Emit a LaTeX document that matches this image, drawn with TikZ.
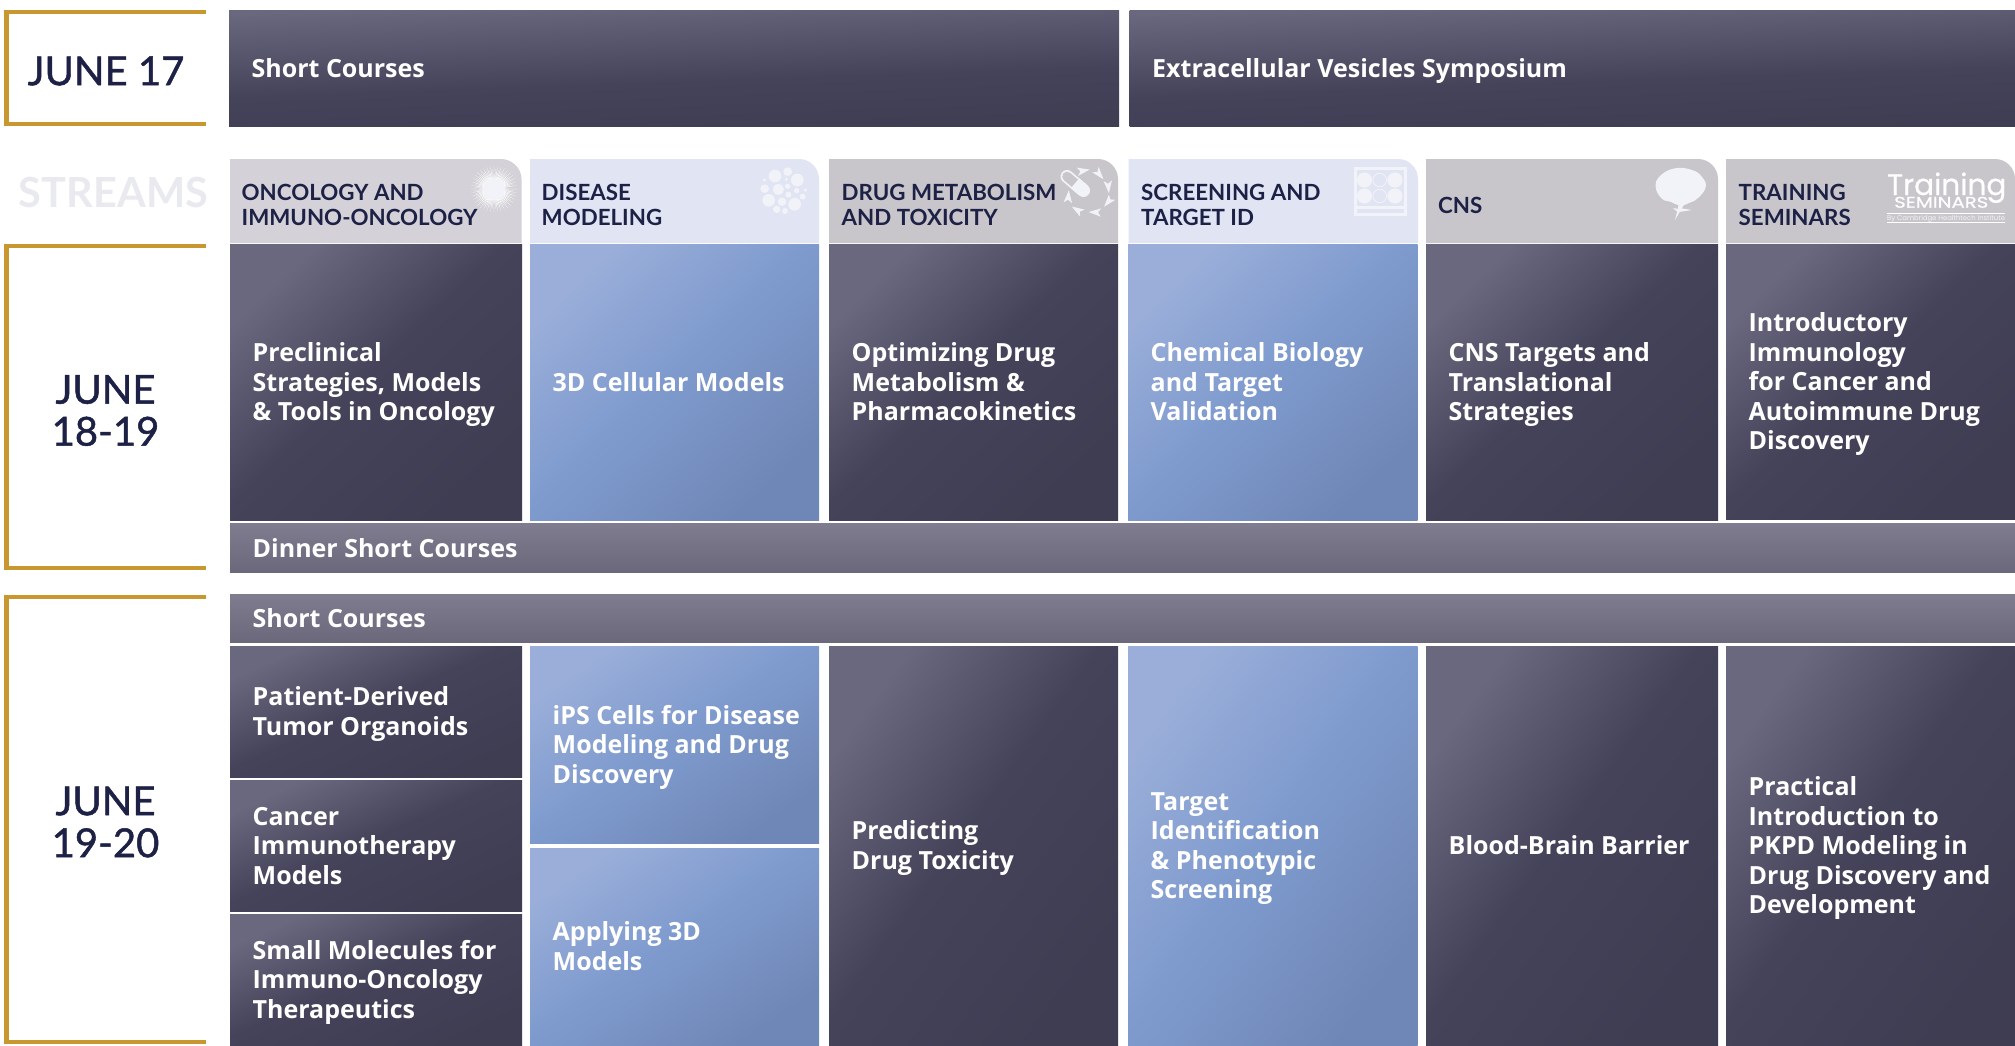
\documentclass[tikz,border=0pt]{standalone}
\usepackage{fontspec}
\setmainfont{Open Sans}
\newfontfamily\hdfont{Lato}
\newfontfamily\datefont{Lato}[FakeBold=1.2]
\newfontfamily\logofont{Poppins}[FakeBold=0.6]
\newfontfamily\logosmall{Poppins}
\newfontfamily\logowide{Poppins}[FakeStretch=1.27,FakeBold=0.6]
\definecolor{dk1}{HTML}{6A687E}
\definecolor{dk2}{HTML}{45435A}
\definecolor{dk3}{HTML}{3F3D52}
\definecolor{md1}{HTML}{807C90}
\definecolor{md2}{HTML}{6B687B}
\definecolor{bl1}{HTML}{9AAED9}
\definecolor{bl2}{HTML}{7F9BCE}
\definecolor{bl3}{HTML}{6F87B6}
\definecolor{hdgrey}{HTML}{C8C5CB}
\definecolor{hdgreyb}{HTML}{D4D2D8}
\definecolor{hdblue}{HTML}{E1E4F3}
\definecolor{navy}{HTML}{1C2145}
\definecolor{gold}{HTML}{C9972F}
\definecolor{faint}{HTML}{E9EAEF}
\definecolor{iconw}{HTML}{F2F3F8}
\pgfdeclareverticalshading{darkg}{100bp}{color(0bp)=(dk3); color(25bp)=(dk3); color(52bp)=(dk2); color(75bp)=(dk1); color(100bp)=(dk1)}
\pgfdeclareverticalshading{darkw}{100bp}{color(0bp)=(dk3); color(25bp)=(dk3); color(45bp)=(dk2); color(75bp)=(dk1); color(100bp)=(dk1)}
\pgfdeclareverticalshading{midg}{100bp}{color(0bp)=(md2); color(25bp)=(md2); color(75bp)=(md1); color(100bp)=(md1)}
\pgfdeclareverticalshading{blueg}{100bp}{color(0bp)=(bl3); color(25bp)=(bl3); color(52bp)=(bl2); color(75bp)=(bl1); color(100bp)=(bl1)}
\tikzset{
  darkbox/.style={shading=darkg,shading angle=\ang},
  widebox/.style={shading=darkw,shading angle=2},
  midbox/.style={shading=midg,shading angle=0},
  bluebox/.style={shading=blueg,shading angle=\ang},
  lab/.style={text=white,align=left,inner sep=0pt,font=\fontsize{25}{29.5}\selectfont\bfseries},
  headlab/.style={text=navy,align=left,inner sep=0pt,font=\hdfont\fontsize{22.3}{24.3}\selectfont\bfseries},
  datelab/.style={text=navy,align=center,inner sep=0pt,font=\datefont\fontsize{40}{42}\selectfont},
  bracket/.style={draw=gold,line width=4.2pt,line cap=butt,miter limit=10},
}
\newcommand\bx[7]{%
  \pgfmathsetmacro\ww{#5-#3}\pgfmathsetmacro\hh{#6-#4}\pgfmathsetmacro\ang{atan(\hh/\ww)}%
  \node[#2,anchor=north west,minimum width=\ww pt,minimum height=\hh pt,inner sep=0pt] (#1) at (#3,#4) {};
  \node[lab,anchor=west] (#1-t) at ([xshift=22.5pt]#1.west) {\rule{0pt}{24pt}#7\rule[-6pt]{0pt}{6pt}};
}
\newcommand\kite[3]{\fill[iconw,shift={(#1,#2)},rotate=#3] (6.5,0) -- (-6,4.2) -- (-3,0) -- (-6,-4.2) -- cycle;}
\begin{document}
\begin{tikzpicture}[x=1pt,y=-1pt]
\useasboundingbox (0,0) rectangle (2015,1045);
\fill[white] (0,0) rectangle (2015,1045);
% date brackets
\draw[bracket] (206,12) -- (6.4,12) -- (6.4,124) -- (206,124);
\draw[bracket] (206,245.8) -- (6.4,245.8) -- (6.4,568) -- (206,568);
\draw[bracket] (206,596.6) -- (6.4,596.6) -- (6.4,1042) -- (206,1042);
\node[datelab] (d17) at (106,71) {JUNE 17};
\node[datelab] (d18) at (105.5,410.5) {JUNE\\18-19};
\node[datelab] (d19) at (105.5,822) {JUNE\\19-20};
\node[text=faint,inner sep=0pt,font=\hdfont\fontsize{41.5}{42}\selectfont\bfseries] (streams) at (113.5,192.5) {STREAMS};
% top row
\bx{sc}{widebox}{229}{10}{1119}{126}{Short Courses}
\bx{ev}{widebox}{1129.5}{10}{2015}{126}{Extracellular Vesicles Symposium}
% headers
\fill[hdgreyb] (230,159) -- (501,159) .. controls (512,159) and (521.5,168) .. (521.5,179) -- (521.5,243) -- (230,243) -- cycle;
\fill[hdblue] (530,159) -- (799,159) .. controls (810,159) and (819,168) .. (819,179) -- (819,243) -- (530,243) -- cycle;
\fill[hdgrey] (829,159) -- (1098,159) .. controls (1109,159) and (1118,168) .. (1118,179) -- (1118,243) -- (829,243) -- cycle;
\fill[hdblue] (1128.6,159) -- (1398,159) .. controls (1409,159) and (1418,168) .. (1418,179) -- (1418,243) -- (1128.6,243) -- cycle;
\fill[hdgrey] (1426,159) -- (1698,159) .. controls (1709,159) and (1718,168) .. (1718,179) -- (1718,243) -- (1426,243) -- cycle;
\fill[hdgrey] (1726,159) -- (1995,159) .. controls (2006,159) and (2015,168) .. (2015,179) -- (2015,243) -- (1726,243) -- cycle;
\node[headlab,anchor=west] (h1) at (241.5,205) {ONCOLOGY AND\\IMMUNO-ONCOLOGY};
\node[headlab,anchor=west] (h2) at (541.5,205) {DISEASE\\MODELING};
\node[headlab,anchor=west] (h3) at (841.5,205) {DRUG METABOLISM\\AND TOXICITY};
\node[headlab,anchor=west] (h4) at (1141,205) {SCREENING AND\\TARGET ID};
\node[headlab,anchor=west] (h5) at (1438,205) {CNS};
\node[headlab,anchor=west] (h6) at (1738.5,205) {TRAINING\\SEMINARS};
% sun icon
\begin{scope}[shift={(494,189)}]
  \foreach \a in {0,9,...,351}{\fill[white] (\a-2.6:9) -- (\a:23.5) -- (\a+2.6:9) -- cycle;}
  \foreach \a in {4.5,13.5,...,355}{\fill[white] (\a-2.6:9) -- (\a:20) -- (\a+2.6:9) -- cycle;}
  \fill[iconw] (0,0) circle[radius=11];
\end{scope}
% cells icon
\begin{scope}[shift={(720,150)},x=.3333pt,y=-.3333pt]
  \foreach \cx/\cy/\cr in {165/78/19,203/65/13,232/90/19,133/90/5,199/88/5,134/116/13,175/118/17,203/109/8,230/122/8,256/120/5,205/134/9,146/151/19,186/155/13,224/163/19,248/140/9,170/178/11,195/183/9}
    {\fill[iconw] (\cx,\cy) circle[radius=\cr];}
\end{scope}
% pill icon
\draw[iconw,line width=13pt,line cap=round] (1067,176.5) -- (1083.5,190.5);
\draw[hdgrey,line width=9.5pt,line cap=round] (1067,176.5) -- (1075,183.3);
\draw[iconw,line width=13pt,line cap=butt] (1075,183.3) -- (1083.5,190.5);
\kite{1083.3}{170.7}{10}
\kite{1099.3}{174.3}{-50}
\kite{1108.3}{186.7}{-85}
\kite{1108.3}{201.7}{-130}
\kite{1095}{212.3}{178}
\kite{1077.3}{210}{148}
\kite{1068.3}{196.7}{85}
% plate icon
\fill[iconw] (1353.5,167) rectangle (1406.5,216);
\fill[hdblue] (1356.5,170) rectangle (1403.5,206);
\fill[hdblue] (1356.5,209) rectangle (1403.5,213);
\foreach \py in {180,196}{
  \fill[iconw] (1364.5,\py) circle[radius=7.6];
  \draw[iconw,line width=.8pt] (1379.7,\py) circle[radius=6.8];
  \fill[iconw] (1395,\py) circle[radius=7.6];
}
% brain icon
\fill[iconw] plot[smooth cycle,tension=.75] coordinates {(1655.7,187) (1660,176) (1675,168.3) (1692,170) (1702,177) (1705.7,187) (1698,198) (1689,203) (1680,205.5) (1671,202) (1661.7,198.5)};
\fill[iconw] (1679,203) -- (1685,203) -- (1675,220) -- (1677.5,210) -- cycle;
\fill[iconw] (1679,212) -- (1692,210) -- (1681,208.3) -- cycle;
\fill[iconw] (1678.5,209) -- (1673,208) -- (1678,212.5) -- cycle;
% training logo
\node[inner sep=0pt,text=white,anchor=base west,font=\logofont\fontsize{29.5}{30}\selectfont] (lg1) at (1887,195) {Training};
\node[inner sep=0pt,text=white,anchor=base west,font=\logowide\fontsize{15.5}{16}\selectfont] (lg2) at (1894,207.7) {SEMINARS};
\node[inner sep=0pt,text=iconw,anchor=base west,font=\logosmall\fontsize{6.85}{8}\selectfont] (lg3) at (1887,220.3) {By Cambridge Healthtech Institute};
\fill[white] (1887,212.8) rectangle (2005,213.6);
\fill[white] (1887,221.6) rectangle (2005,222.4);
% June 18-19 bodies
\bx{a1}{darkbox}{230}{244}{522}{520}{Preclinical\\Strategies, Models\\\& Tools in Oncology}
\bx{a2}{bluebox}{530}{244}{819}{520}{3D Cellular Models}
\bx{a3}{darkbox}{829}{244}{1118}{520}{Optimizing Drug\\Metabolism \&\\Pharmacokinetics}
\bx{a4}{bluebox}{1128}{244}{1417.5}{520}{Chemical Biology\\and Target\\Validation}
\bx{a5}{darkbox}{1426}{244}{1718}{520}{CNS Targets and\\Translational\\Strategies}
\bx{a6}{darkbox}{1726}{244}{2015}{519}{Introductory\\Immunology\\for Cancer and\\Autoimmune Drug\\Discovery}
% bars
\bx{din}{midbox}{230}{523.6}{2015}{572}{Dinner Short Courses}
\bx{sc2}{midbox}{230}{594}{2015}{642}{Short Courses}
% June 19-20 bodies
\bx{b1}{darkbox}{230}{646}{522}{777}{Patient-Derived\\Tumor Organoids}
\bx{b2}{darkbox}{230}{780}{522}{911}{Cancer\\Immunotherapy\\Models}
\bx{b3}{darkbox}{230}{914}{522}{1045}{Small Molecules for\\Immuno-Oncology\\Therapeutics}
\bx{c1}{bluebox}{530}{646}{819}{843}{iPS Cells for Disease\\Modeling and Drug\\Discovery}
\bx{c2}{bluebox}{530}{848}{819}{1045}{Applying 3D\\Models}
\bx{e1}{darkbox}{829}{646}{1118}{1045}{Predicting\\Drug Toxicity}
\bx{f1}{bluebox}{1128}{646}{1417.5}{1045}{Target\\Identification\\\& Phenotypic\\Screening}
\bx{g1}{darkbox}{1426}{646}{1718}{1045}{Blood-Brain Barrier}
\bx{k1}{darkbox}{1726}{646}{2015}{1045}{Practical\\Introduction to\\PKPD Modeling in\\Drug Discovery and\\Development}
\end{tikzpicture}
\end{document}
